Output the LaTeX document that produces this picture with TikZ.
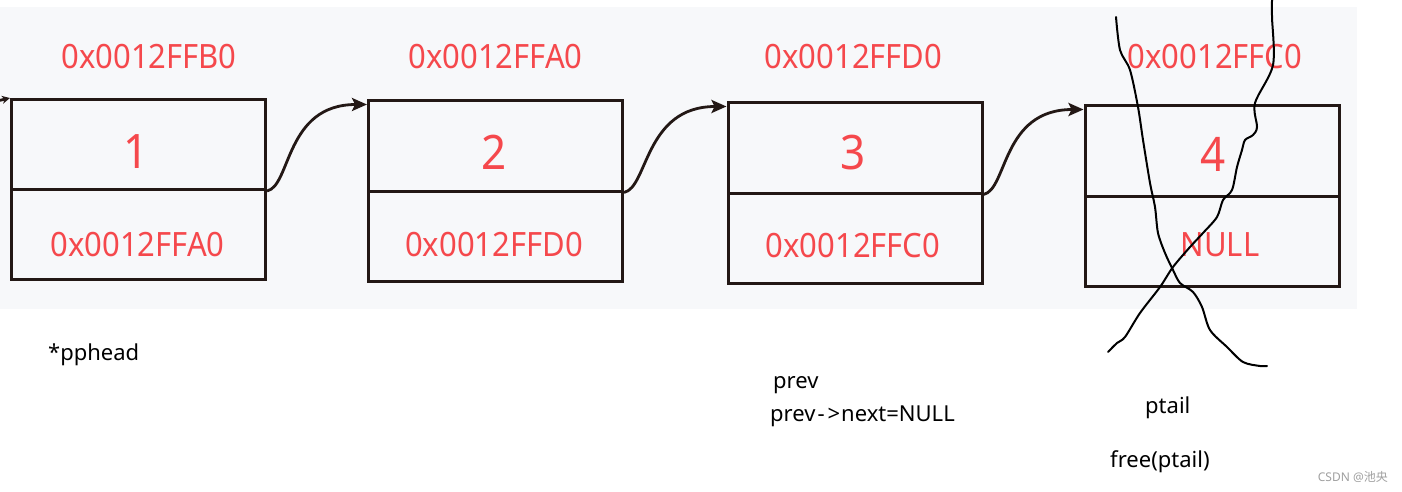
\documentclass[tikz,border=0pt]{standalone}
\usepackage{fontspec}
\setmainfont{Noto Sans}
\newfontfamily\cjkfont{Noto Sans CJK SC}
\usetikzlibrary{arrows.meta}
\definecolor{bgc}{HTML}{F7F8FA}
\definecolor{addr}{HTML}{F5484C}
\definecolor{ink}{HTML}{231815}
\newcommand{\tallt}[1]{\scalebox{1}[1.08]{#1}}
\begin{document}
\begin{tikzpicture}[x=1pt,y=-1pt,
  cell/.style={draw=ink, line width=3pt, minimum width=254pt, minimum height=90pt, inner sep=0pt},
  addrtext/.style={text=addr, inner sep=0pt, font=\fontsize{31}{34}\selectfont},
  numtext/.style={text=addr, inner sep=0pt, font=\fontsize{44}{48}\selectfont},
  note/.style={text=black, inner sep=0pt, anchor=west, font=\fontsize{22}{24}\selectfont},
  link/.style={draw=ink, line width=2.8pt, -{Stealth[length=15pt,width=13pt,inset=3pt]}},
  hand/.style={draw=black, line width=2pt, line cap=round, line join=round}
]
\useasboundingbox (0,0) rectangle (1402,492);
\fill[bgc] (0,7) rectangle (1357,309);

% top address labels
\node[addrtext] (a1) at (149,56.5) {\tallt{0x0012FFB0}};
\node[addrtext] (a2) at (495.5,56.5) {\tallt{0x0012FFA0}};
\node[addrtext] (a3) at (853.5,56.5) {\tallt{0x0012FFD0}};
\node[addrtext] (a4) at (1215,56.5) {\tallt{0x0012FFC0}};

% boxes
\node[cell] (b1t) at (138.5,144.5) {};
\node[cell] (b1b) at (138.5,234.5) {};
\node[cell] (b2t) at (495.5,146) {};
\node[cell] (b2b) at (495.5,236) {};
\node[cell] (b3t) at (855,148) {};
\node[cell] (b3b) at (855,238) {};
\node[cell] (b4t) at (1212,151) {};
\node[cell] (b4b) at (1212,241) {};

% box contents
\node[numtext] (n1) at (136,152) {\tallt{1}};
\node[numtext] (n2) at (494,152) {\tallt{2}};
\node[numtext] (n3) at (853,153) {\tallt{3}};
\node[numtext] (n4) at (1213,154) {\tallt{4}};
\node[addrtext] (p1) at (137.5,244.5) {\tallt{0x0012FFA0}};
\node[addrtext] (p2) at (494,245) {\tallt{0x0012FFD0}};
\node[addrtext] (p3) at (853,245.5) {\tallt{0x0012FFC0}};
\node[addrtext] (p4) at (1220,244.5) {\tallt{NULL}};

% links
\coordinate (in0) at (-3,101);
\draw[draw=ink, line width=2.8pt, -{Stealth[length=8pt,width=8pt]}] (in0) -- (b1t.north west);
\draw[link] (b1t.south east) .. controls +(24,-5) and +(-82,0) .. ([yshift=-5pt]b2t.north west);
\draw[link] (b2t.south east) .. controls +(24,-5) and +(-82,0) .. ([yshift=-5pt]b3t.north west);
\draw[link] (b3t.south east) .. controls +(24,-5) and +(-82,0) .. ([yshift=-5pt]b4t.north west);

% hand-drawn cross
\draw[hand] plot[smooth, tension=0.5] coordinates {(1116,17) (1120,50) (1130,70) (1138,107) (1143,140) (1150,183) (1155,207) (1158,233) (1165,253) (1173,270) (1180,283) (1193,292) (1202,307) (1210,330) (1227,347) (1243,362) (1260,366) (1267,366)};
\draw[hand] plot[smooth, tension=0.5] coordinates {(1272,0) (1272,17) (1273,65) (1255,103) (1257,127) (1253,135) (1245,140) (1242,150) (1237,167) (1232,190) (1223,200) (1217,217) (1203,233) (1190,247) (1173,267) (1160,287) (1140,313) (1125,337) (1117,343) (1108,352)};

% notes
\node[note] (t1) at (48,355) {*pphead};
\node[note] (t2) at (773,385) {prev};
\node[note] (t3) at (770,416) {prev\kern2pt-\kern3pt>\kern1pt next=NULL};
\node[note] (t4) at (1145,408) {ptail};
\node[note] (t5) at (1110,462) {free(ptail)};
\node[text=gray!75, inner sep=0pt, anchor=east, font=\fontsize{12}{14}\selectfont] (wm) at (1388,477) {CSDN @{\cjkfont 池央}};
\end{tikzpicture}
\end{document}
